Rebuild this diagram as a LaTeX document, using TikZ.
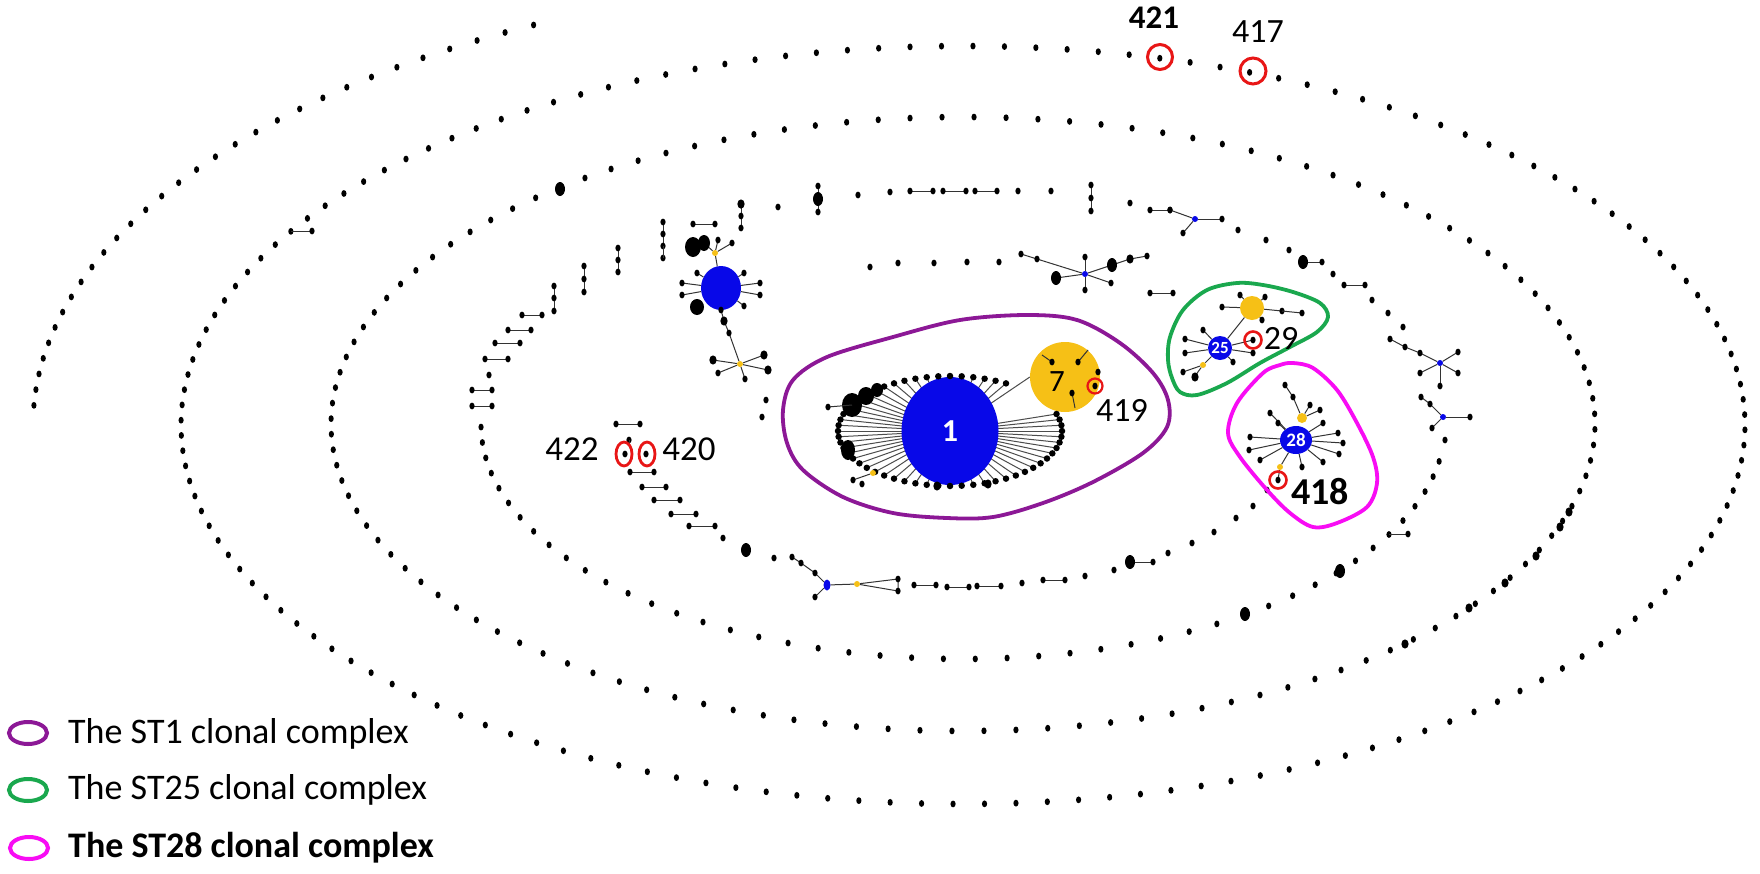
\documentclass[tikz,border=0pt]{standalone}
\usepackage{fontspec}
\setmainfont{Carlito}
\usetikzlibrary{shapes.geometric}
\definecolor{stblue}{RGB}{8,8,232}
\definecolor{styel}{RGB}{246,192,22}
\definecolor{stred}{RGB}{232,22,22}
\definecolor{stpur}{RGB}{140,24,150}
\definecolor{stgrn}{RGB}{26,168,78}
\definecolor{stmag}{RGB}{248,12,244}
\tikzset{
  edge/.style={draw=black!80,line width=1pt},
  spoke/.style={draw=black!70,line width=1pt},
  sdot/.style={circle,fill=black,inner sep=0pt,minimum size=6.5pt},
  ynode/.style={circle,fill=styel,inner sep=0pt},
  bnode/.style={ellipse,fill=stblue,inner sep=0pt},
  redmark/.style={ellipse,draw=stred,line width=2.6pt,inner sep=0pt},
  hull/.style={line width=3.8pt},
  numlbl/.style={inner sep=0pt,font=\fontsize{34}{36}\selectfont},
  legtxt/.style={inner sep=0pt,anchor=base west,font=\fontsize{36}{38}\selectfont}
}
\newcommand\mydot[2]{\fill (#1,#2) ellipse [x radius=2.6pt,y radius=3.4pt];}
\newcommand\mymid[2]{\fill (#1,#2) ellipse [x radius=3.6pt,y radius=4.6pt];}
\newcommand\mybig[2]{\fill (#1,#2) ellipse [x radius=5pt,y radius=7pt];}
\newcommand\mydbl[3]{\draw[edge] (#1,#3) -- (#2,#3); \mydot{#1}{#3}\mydot{#2}{#3}}
\newcommand\myvch[4]{\draw[edge] (#1,#2) -- (#1,#4); \mydot{#1}{#2}\mydot{#1}{#3}\mydot{#1}{#4}}
\begin{document}
\begin{tikzpicture}[x=1pt,y=-1pt]
\useasboundingbox (0,0) rectangle (1760,873);
\fill[white] (0,0) rectangle (1760,873);

% ---------- rings of single sequence types ----------
\foreach \k in {0,...,30}{\pgfmathsetmacro\t{117.5+2*\k}
  \fill ({963+930*cos(\t)},{425-451*sin(\t)}) ellipse [x radius=2.6pt,y radius=3.4pt];}
\foreach \k in {0,...,155}{\pgfmathsetmacro\t{68.5+2.3077*\k}
  \fill ({963+782*cos(\t)},{425-379*sin(\t)}) ellipse [x radius=2.6pt,y radius=3.4pt];}
\foreach \k in {0,...,123}{\pgfmathsetmacro\t{89+2.9032*\k}
  \fill ({963+632*cos(\t)},{424-307*sin(\t)}) ellipse [x radius=2.6pt,y radius=3.4pt];}
\foreach \k in {0,...,45}{\pgfmathsetmacro\t{-179.5+3.79*\k}
  \fill ({963+482*cos(\t)},{425-234*sin(\t)}) ellipse [x radius=2.6pt,y radius=3.4pt];}

% extras on outer rings
\draw[edge] (291,231) -- (312,231); \mydot{312}{231}
\mybig{560}{189}
\foreach \x/\y in {1569/512,1560/527,1536/556,1505/583,1469/608,1405/644}{\mymid{\x}{\y}}

% ring 4 extras (lower right)
\draw[edge] (1389,534) -- (1408,534); \mydot{1408}{534}
\mybig{1340}{571} \mybig{1245}{614}

% ring 4 top-left features
\mydbl{472}{492}{406} \mydbl{472}{492}{390} \mydot{489}{375}
\mydbl{485}{508}{359} \mydbl{495}{520}{343} \mydbl{508}{531}{330} \mydbl{522}{542}{315}
\myvch{554}{286}{298}{311} \myvch{584}{266}{279}{292} \myvch{618}{248}{260}{272}
\myvch{663}{222}{234}{246} \mydot{663}{258} \draw[edge] (663,246) -- (663,258);
\mydbl{693}{715}{224}
\myvch{741}{205}{216}{228} \mymid{741}{204}
\mydot{778}{207}
\myvch{818}{186}{199}{212} \mybig{818}{199}
\mydot{858}{195} \mydot{890}{192}
\mydbl{910}{933}{191} \mydbl{943}{966}{191} \mydbl{975}{997}{191}
\mydot{1018}{191} \mydot{1051}{191}
\myvch{1091}{185}{198}{211}
\mydot{1130}{203}
\mydbl{1150}{1170}{210}
% small star on ring 4
\node[bnode,minimum size=6pt] (b4a) at (1195,219) {};
\foreach \x/\y in {1170/210,1222/219,1183/233}{\draw[edge] (b4a) -- (\x,\y); \mydot{\x}{\y}}
\foreach \x/\y in {1238/230,1266/240,1289/250,1333/274,1372/300,1388/313,1403/327}{\mydot{\x}{\y}}
\draw[edge] (1303,262) -- (1322,262); \mybig{1303}{262} \mydot{1322}{262}
\mydbl{1344}{1365}{285}
% star 2
\node[bnode,minimum size=6pt] (b4b) at (1440,363) {};
\draw[edge] (1390,339) -- (1405,347) -- (1420,353) -- (b4b);
\foreach \x/\y in {1390/339,1405/347,1420/353}{\mydot{\x}{\y}}
\foreach \x/\y in {1458/352,1458/373,1420/373,1440/386}{\draw[edge] (b4b) -- (\x,\y); \mydot{\x}{\y}}
% star 3
\node[bnode,minimum size=6pt] (b4c) at (1443,417) {};
\draw[edge] (1421,397) -- (1430,404) -- (b4c);
\mydot{1421}{397} \mydot{1430}{404}
\foreach \x/\y in {1470/417,1432/428}{\draw[edge] (b4c) -- (\x,\y); \mydot{\x}{\y}}
\mydot{1445}{440}

% ---------- ring 5 ----------
\foreach \x/\y in {870/267,898/263,934/263,967/262,999/262}{\mydot{\x}{\y}}
\node[bnode,minimum size=6pt] (b5t) at (1085,274) {};
\draw[edge] (1021,254) -- (1037,259) -- (b5t);
\draw[edge] (b5t) -- (1112,265) -- (1130,259) -- (1147,256);
\foreach \x/\y in {1056/278,1085/257,1085/290,1111/283}{\draw[edge] (b5t) -- (\x,\y);}
\mydot{1021}{254} \mydot{1037}{259} \mybig{1056}{278} \mydot{1085}{257} \mydot{1085}{290}
\mybig{1112}{265} \mymid{1130}{259} \mydot{1147}{256} \mydot{1111}{283}
\mydbl{1150}{1173}{293}
% ring 5 lower right and bottom
\foreach \x/\y in {1267/490,1253/506,1236/518,1214/532,1192/543,1168/553,1114/570,1085/576,1022/583}{\mydot{\x}{\y}}
\draw[edge] (1130,562) -- (1153,562); \mybig{1130}{562} \mydot{1153}{562}
\draw[edge,line width=0.6pt] (1043,580) -- (1065,580); \mydot{1043}{580} \mydot{1065}{580}
\mydbl{977}{1001}{586} \mydbl{947}{969}{587} \mydbl{914}{936}{585}
% bottom-left star
\node[bnode,minimum width=7pt,minimum height=11pt] (b5b) at (827,585) {};
\node[ynode,minimum size=6pt] (y5b) at (857,584) {};
\draw[edge] (b5b) -- (815,597); \draw[edge] (b5b) -- (815,573) -- (801,563) -- (792,557);
\draw[edge] (b5b) -- (y5b); \draw[edge] (y5b) -- (898,579) -- (898,591) -- (y5b);
\foreach \x/\y in {815/597,815/573,801/563,792/557,898/579,898/591}{\mydot{\x}{\y}}
\mydot{774}{558} \mybig{746}{550} \mydot{723}{538}
\mydbl{689}{715}{526} \mydbl{671}{696}{514} \mydbl{654}{680}{500}
\mydbl{642}{666}{487} \mydbl{630}{654}{472}
\mydot{625}{454} \mydot{646}{454} \mydot{629}{440} \draw[edge] (629,440) -- (629,447);
\mydbl{616}{640}{424}
\mydot{766}{400} \mydot{762}{417}

% ---------- left blue cluster ----------
\node[bnode,minimum width=40pt,minimum height=44pt] (bl) at (721,288) {};
\foreach \x/\y in {682/283,682/295,760/283,760/295,697/273,744/273,744/306}{\draw[edge] (bl) -- (\x,\y); \mydot{\x}{\y}}
\fill (697,307) ellipse [x radius=7pt,y radius=8pt];
\node[ynode,minimum size=6pt] (yb1) at (715,253) {};
\draw[edge] (bl) -- (yb1);
\foreach \x/\y in {732/243,718/240,704/243}{\draw[edge] (yb1) -- (\x,\y);}
\mydot{732}{243} \mydot{718}{240}
\fill (693,247) ellipse [x radius=8pt,y radius=10pt]; \fill (704,243) ellipse [x radius=6pt,y radius=8pt];
\node[ynode,minimum size=6pt] (yb2) at (740,364) {};
\draw[edge] (721,310) -- (724,321) -- (729,333) -- (yb2);
\mydot{721}{310} \mymid{724}{321} \mydot{729}{333}
\foreach \x/\y in {713/360,718/373,745/379,764/355,768/370}{\draw[edge] (yb2) -- (\x,\y);}
\mymid{713}{360} \mydot{718}{373} \mydot{745}{379} \mymid{764}{355} \mymid{768}{370}

% ---------- hulls ----------
\draw[stpur,hull] plot[smooth cycle,tension=0.55] coordinates {(783,410) (793,380) (827,357) (893,337) (960,320) (1027,315) (1077,320) (1120,343) (1153,373) (1168,400) (1167,427) (1143,453) (1093,482) (1043,503) (993,517) (947,518) (893,513) (843,497) (803,470) (787,443)};
\draw[stgrn,hull] plot[smooth cycle,tension=0.55] coordinates {(1168,360) (1170,337) (1183,310) (1207,290) (1237,283) (1263,285) (1293,292) (1320,303) (1328,317) (1317,332) (1290,347) (1260,363) (1227,383) (1197,395) (1180,392) (1172,378)};
\draw[stmag,hull] plot[smooth cycle,tension=0.55] coordinates {(1293,363) (1313,368) (1337,390) (1357,423) (1373,457) (1377,483) (1367,507) (1337,523) (1313,527) (1290,513) (1267,490) (1240,457) (1228,433) (1237,403) (1263,373) (1280,365)};

% ---------- ST1 clonal complex ----------
\coordinate (c1) at (950,431);
\foreach \a in {0,6,12,18}{\coordinate (s\a) at ({950+112*cos(\a)},{431-55*sin(\a)}); \draw[spoke] (c1) -- (s\a);}
\foreach \a in {60,66,...,354}{\coordinate (s\a) at ({950+112*cos(\a)},{431-55*sin(\a)}); \draw[spoke] (c1) -- (s\a);}
\node[ynode,minimum width=62pt,minimum height=70pt] (st7) at (1065,377) {};
\draw[spoke] (c1) -- (st7.west);
\node[bnode,minimum width=97pt,minimum height=108pt,text=white,font=\fontsize{32}{34}\selectfont\bfseries] (st1) at (c1) {1};
\foreach \a in {0,6,12,18}{\node[sdot] at (s\a) {};}
\foreach \a in {60,66,...,354}{\node[sdot] at (s\a) {};}
\fill (852,405) ellipse [x radius=10pt,y radius=12pt];
\fill (866,396) ellipse [x radius=8pt,y radius=9pt];
\fill (877,390) ellipse [x radius=6pt,y radius=7pt];
\fill (848,450) ellipse [x radius=7pt,y radius=10pt];
\draw[edge] (828,407) -- (852,405); \mydot{828}{407}
\node[ynode,minimum size=6pt] (y1a) at (873,473) {};
\draw[edge] (y1a) -- (853,480); \mydot{853}{480} \mydot{862}{484}
\mymid{937}{486} \mymid{988}{484}
% ST7 children
\draw[edge] (1042,355) -- (1052,362); \draw[edge] (1088,350) -- (1078,362);
\draw[edge] (1072,393) -- (1075,408); \mydot{1052}{362} \mydot{1078}{362} \mydot{1072}{393} \mydot{1098}{372}
\node[inner sep=0pt,font=\fontsize{31}{33}\selectfont] (t7) at (1057,382) {7};
\mydot{1095}{386}
\node[redmark,minimum size=15pt,line width=2.2pt] (r419) at (1095,386) {};
\node[numlbl] (l419) at (1122,410) {419};

% ---------- ST25 clonal complex ----------
\node[ynode,minimum size=24pt] (y25) at (1252,308) {};
\node[bnode,minimum width=24pt,minimum height=24pt] (st25) at (1220,348) {};
\draw[edge] (st25) -- (y25);
\foreach \x/\y in {1185/339,1185/353,1203/330,1233/362,1253/353,1253/340}{\draw[edge] (st25) -- (\x,\y); \mydot{\x}{\y}}
\node[ynode,minimum size=6pt] (y25b) at (1203,365) {};
\draw[edge] (st25) -- (y25b); \draw[edge] (y25b) -- (1183,372); \draw[edge] (y25b) -- (1195,376);
\mydot{1183}{372} \mymid{1195}{377}
\foreach \x/\y in {1222/307,1240/295,1265/297,1282/311,1262/320}{\draw[edge] (y25) -- (\x,\y); \mydot{\x}{\y}}
\draw[edge] (1282,311) -- (1302,313); \mydot{1302}{313}
\node[inner sep=0pt,text=white,font=\fontsize{17}{18}\selectfont\bfseries] at (st25) {25};
\node[redmark,minimum size=17pt] (r29) at (1253,340) {};
\node[numlbl] (l29) at (1281,338) {29};

% ---------- ST28 clonal complex ----------
\node[bnode,minimum width=32pt,minimum height=28pt,text=white,font=\fontsize{19}{20}\selectfont\bfseries] (st28) at (1296,440) {28};
\foreach \x/\y in {1250/437,1249/450,1260/460,1270/413,1278/423,1323/423,1338/433,1343/443,1339/454,1323/462,1302/467}{\draw[edge] (st28) -- (\x,\y); \mydot{\x}{\y}}
\node[ynode,minimum size=10pt] (y28) at (1302,418) {};
\draw[edge] (y28) -- (1293,397) -- (1285,385); \draw[edge] (y28) -- (1310,405); \draw[edge] (y28) -- (1320,410);
\mydot{1293}{397} \mydot{1285}{385} \mydot{1310}{405} \mydot{1320}{410}
\node[ynode,minimum size=6pt] (y28b) at (1280,467) {};
\draw[edge] (st28) -- (y28b); \draw[edge] (y28b) -- (1278,480);
\mydot{1278}{480}
\node[redmark,minimum size=17pt] (r418) at (1278,480) {};
\node[numlbl,font=\fontsize{38}{40}\selectfont\bfseries] (l418) at (1320,492) {418};

% ---------- other labelled sequence types ----------
\node[redmark,minimum size=25pt,line width=3pt] (r421) at (1160,57) {};
\node[redmark,minimum size=26pt,line width=3pt] (r417) at (1253,71) {};
\node[numlbl,font=\fontsize{33}{35}\selectfont\bfseries] (l421) at (1154,18) {421};
\node[numlbl] (l417) at (1258,32) {417};
\node[redmark,minimum width=16pt,minimum height=24pt,line width=2.8pt] (r422) at (624,454) {};
\node[redmark,minimum width=16pt,minimum height=24pt,line width=2.8pt] (r420) at (647,454) {};
\node[numlbl,font=\fontsize{35}{37}\selectfont] (l422) at (572,449) {422};
\node[numlbl,font=\fontsize{35}{37}\selectfont] (l420) at (689,449) {420};

% ---------- legend ----------
\draw[stpur,line width=4pt] (28,733) ellipse [x radius=19pt,y radius=11pt];
\draw[stgrn,line width=4pt] (28,790) ellipse [x radius=19pt,y radius=11pt];
\draw[stmag,line width=4pt] (29,848) ellipse [x radius=19pt,y radius=11pt];
\node[legtxt] (lg1) at (68,743) {The ST1 clonal complex};
\node[legtxt] (lg2) at (68,799) {The ST25 clonal complex};
\node[legtxt,font=\fontsize{36}{38}\selectfont\bfseries] (lg3) at (68,857) {The ST28 clonal complex};
\end{tikzpicture}
\end{document}
